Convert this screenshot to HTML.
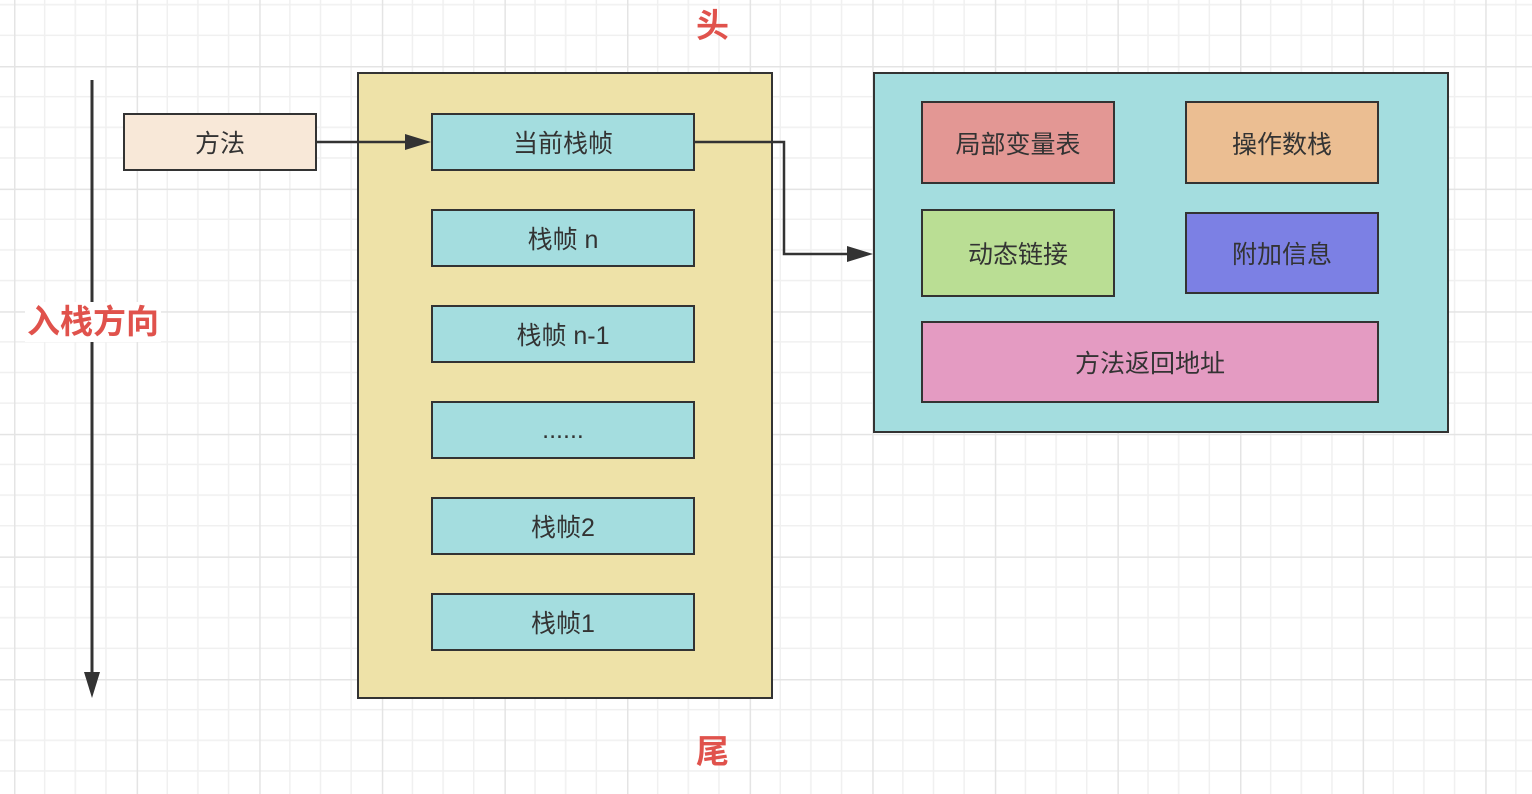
<!DOCTYPE html>
<html><head><meta charset="utf-8"><style>
html,body{margin:0;padding:0;background:#fff;}
body{width:1532px;height:794px;position:relative;overflow:hidden;font-family:"Liberation Sans","Noto Sans CJK SC",sans-serif;}
.b{position:absolute;box-sizing:border-box;border:2px solid #333;display:flex;align-items:center;justify-content:center;font-size:25px;color:#333;}
.t{position:absolute;color:#e0524c;font-size:33px;font-weight:bold;line-height:40px;}
</style></head><body>
<svg width="1532" height="794" style="position:absolute;left:0;top:0">
<defs>
<pattern id="g" x="14" y="66" width="122.6" height="122.6" patternUnits="userSpaceOnUse">
<path d="M30.65 0V122.6M61.3 0V122.6M91.95 0V122.6M0 30.65H122.6M0 61.3H122.6M0 91.95H122.6" stroke="#f0f0f0" stroke-width="1.5" fill="none"/>
<path d="M0.75 0V122.6M0 0.75H122.6" stroke="#e4e4e4" stroke-width="1.5" fill="none"/>
</pattern>
</defs>
<rect width="1532" height="794" fill="url(#g)"/>
<line x1="92" y1="80" x2="92" y2="680" stroke="#333" stroke-width="3"/>
<polygon points="84,672 100,672 92,698" fill="#333"/>
</svg>
<div class="t" style="left:25px;top:302px;background:#fff;padding:0 2px">入栈方向</div>
<div class="t" style="left:696px;top:6px">头</div>
<div class="t" style="left:696px;top:732px">尾</div>
<div class="b" style="left:123px;top:113px;width:194px;height:58px;background:#f8e8d8">方法</div>
<div class="b" style="left:357px;top:72px;width:416px;height:627px;background:#eee2a8"></div>
<div class="b" style="left:431px;top:113px;width:264px;height:58px;background:#a4dddf">当前栈帧</div>
<div class="b" style="left:431px;top:209px;width:264px;height:58px;background:#a4dddf">栈帧 n</div>
<div class="b" style="left:431px;top:305px;width:264px;height:58px;background:#a4dddf">栈帧 n-1</div>
<div class="b" style="left:431px;top:401px;width:264px;height:58px;background:#a4dddf">......</div>
<div class="b" style="left:431px;top:497px;width:264px;height:58px;background:#a4dddf">栈帧2</div>
<div class="b" style="left:431px;top:593px;width:264px;height:58px;background:#a4dddf">栈帧1</div>
<div class="b" style="left:873px;top:72px;width:576px;height:361px;background:#a4dddf"></div>
<div class="b" style="left:921px;top:101px;width:194px;height:83px;background:#e39794">局部变量表</div>
<div class="b" style="left:1185px;top:101px;width:194px;height:83px;background:#ebbe92">操作数栈</div>
<div class="b" style="left:921px;top:209px;width:194px;height:88px;background:#bade94">动态链接</div>
<div class="b" style="left:1185px;top:212px;width:194px;height:82px;background:#7c80e4">附加信息</div>
<div class="b" style="left:921px;top:321px;width:458px;height:82px;background:#e49bc2">方法返回地址</div>
<svg width="1532" height="794" style="position:absolute;left:0;top:0">
<line x1="317" y1="142" x2="412" y2="142" stroke="#333" stroke-width="2.5"/>
<polygon points="405,134 431,142 405,150" fill="#333"/>
<polyline points="695,142 784,142 784,254 850,254" fill="none" stroke="#333" stroke-width="2.5"/>
<polygon points="847,246 873,254 847,262" fill="#333"/>
</svg>
</body></html>
